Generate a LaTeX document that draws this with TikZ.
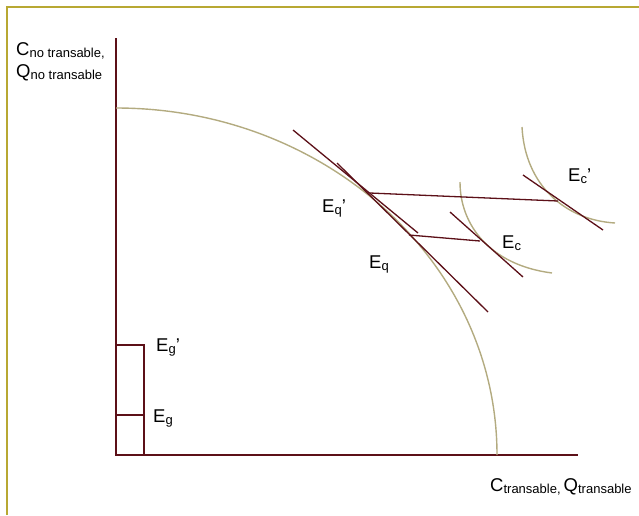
\documentclass[tikz,border=0pt]{standalone}
\usepackage{fontspec}
\setmainfont{Liberation Sans}
\definecolor{axiscol}{HTML}{5C1018}
\definecolor{curvecol}{HTML}{B3AB80}
\definecolor{framecol}{HTML}{B8A832}
\newcommand\sbx[1]{\raisebox{-0.3ex}{\fontsize{13}{14}\selectfont #1}}
\tikzset{
  axisline/.style={draw=axiscol, line width=1.4pt},
  tanline/.style={draw=axiscol, line width=1.3pt},
  curveline/.style={draw=curvecol, line width=1.4pt},
  lbl/.style={inner sep=0pt, anchor=base west, font=\fontsize{18.5}{20}\selectfont},
}
\begin{document}
\begin{tikzpicture}[x=1pt,y=-1pt]
\useasboundingbox (0,0) rectangle (639,515);
% frame
\draw[framecol, line width=1.6pt] (7,515) -- (7,7) -- (639,7);
% axes
\coordinate (ytop) at (116,38);
\coordinate (orig) at (116,455);
\coordinate (xend) at (578,455);
\draw[axisline] (ytop) -- (orig) -- (xend);
% PPF
\coordinate (ppftop) at (116,108);
\draw[curveline] (ppftop) arc[start angle=-90, end angle=0, x radius=381, y radius=347];
% indifference curves
\coordinate (ica) at (460,182);
\coordinate (icb) at (552,273);
\draw[curveline] (ica) .. controls (460,225) and (490,265) .. (icb);
\coordinate (icc) at (522,127);
\coordinate (icd) at (615,223);
\draw[curveline] (icc) .. controls (525,185) and (565,220) .. (icd);
% tangent lines
\coordinate (t1a) at (293,130); \coordinate (t1b) at (418,233);
\draw[tanline] (t1a) -- (t1b);
\coordinate (t2a) at (337,163); \coordinate (t2b) at (488,312);
\draw[tanline] (t2a) -- (t2b);
\coordinate (t3a) at (450,212); \coordinate (t3b) at (523,277);
\draw[tanline] (t3a) -- (t3b);
\coordinate (t4a) at (523,175); \coordinate (t4b) at (603,230);
\draw[tanline] (t4a) -- (t4b);
% trade lines
\coordinate (eqp) at (370,193); \coordinate (ecp) at (558,201);
\draw[tanline] (eqp) -- (ecp);
\coordinate (eq) at (409,235); \coordinate (ec) at (480,241);
\draw[tanline] (eq) -- (ec);
% Eg box
\coordinate (b1) at (116,345); \coordinate (b2) at (144,455);
\draw[axisline] (b1) rectangle (b2);
\coordinate (m1) at (116,415); \coordinate (m2) at (144,415);
\draw[axisline] (m1) -- (m2);
% labels
\node[lbl] (lcn) at (16,55) {C\sbx{no transable,}};
\node[lbl] (lqn) at (16,77) {Q\sbx{no transable}};
\node[lbl] (lct) at (490,491) {C\sbx{transable,}\,Q\sbx{transable}};
\node[lbl] (leqp) at (322,212) {E\sbx{q}'};
\node[lbl] (leq) at (369,268) {E\sbx{q}};
\node[lbl] (lec) at (502,248) {E\sbx{c}};
\node[lbl] (lecp) at (568,181) {E\sbx{c}'};
\node[lbl] (legp) at (156,351) {E\sbx{g}'};
\node[lbl] (leg) at (153,422) {E\sbx{g}};
\end{tikzpicture}
\end{document}
